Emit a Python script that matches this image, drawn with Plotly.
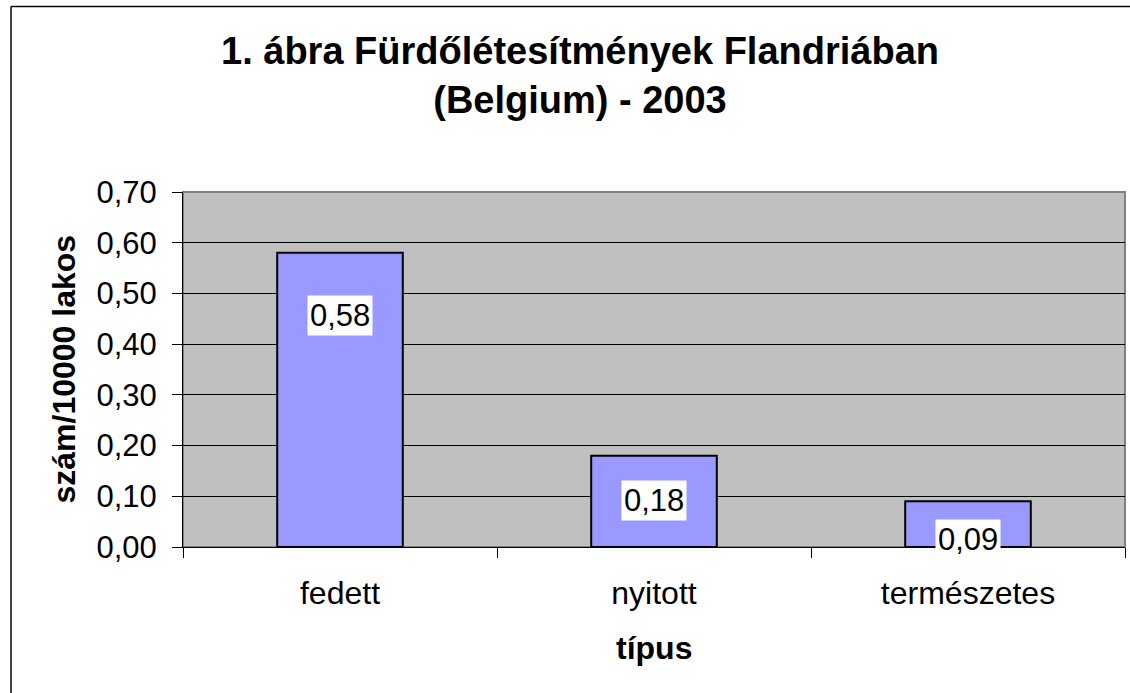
import plotly.graph_objects as go

categories = ["fedett", "nyitott", "természetes"]
values = [0.58, 0.18, 0.09]
label_y = [0.457, 0.091, 0.015]
y_ticks = [0.0, 0.1, 0.2, 0.3, 0.4, 0.5, 0.6, 0.7]

title_text = "1. ábra Fürdőlétesítmények Flandriában<br>(Belgium) - 2003"
x_title = "típus"
y_title = "szám/10000 lakos"

FONT = "Arial, Liberation Sans, sans-serif"

W, H = 1130, 693
L, T, R, B = 183, 192, 5, 146
PW = W - L - R   # plot width
PH = H - T - B   # plot height


def fmt(v):
    return f"{v:.2f}".replace(".", ",")


def px_x(page_x):
    return (page_x - L) / PW


def px_y(page_y):
    return (H - B - page_y) / PH


fig = go.Figure()
fig.add_trace(go.Bar(
    x=categories, y=values, width=0.4,
    marker=dict(color="#9999FF", line=dict(color="#000000", width=2)),
    hoverinfo="skip",
))

for c, v, ly in zip(categories, values, label_y):
    fig.add_annotation(
        x=c, y=ly, xref="x", yref="y", text=fmt(v), showarrow=False,
        font=dict(family=FONT, size=31, color="#000000"),
        bgcolor="#FFFFFF", borderpad=2,
    )

# axis titles
fig.add_annotation(
    x=px_x(654), y=px_y(648), xref="paper", yref="paper",
    text=f"<b>{x_title}</b>", showarrow=False,
    font=dict(family=FONT, size=32, color="#000000"),
    xanchor="center", yanchor="middle",
)
fig.add_annotation(
    x=px_x(63), y=0.5, xref="paper", yref="paper",
    text=f"<b>{y_title}</b>", showarrow=False, textangle=-90,
    font=dict(family=FONT, size=32, color="#000000"),
    xanchor="center", yanchor="middle",
)

# outer frame (only top and left edges are visible in the picture)
frame = dict(color="#000000", width=1.5)
fig.add_shape(type="line", xref="paper", yref="paper",
              x0=px_x(11), x1=px_x(1130), y0=px_y(6.5), y1=px_y(6.5),
              line=frame, layer="above")
fig.add_shape(type="line", xref="paper", yref="paper",
              x0=px_x(11), x1=px_x(11), y0=px_y(6.5), y1=px_y(693),
              line=frame, layer="above")
# plot area border
fig.add_shape(type="rect", xref="paper", yref="paper",
              x0=0, x1=1, y0=0, y1=1,
              line=dict(color="#808080", width=2), fillcolor="rgba(0,0,0,0)",
              layer="below")

fig.update_layout(
    width=W, height=H,
    margin=dict(l=L, r=R, t=T, b=B),
    paper_bgcolor="#FFFFFF", plot_bgcolor="#C0C0C0",
    separators=", ",
    showlegend=False,
    bargap=0.6,
    font=dict(family=FONT, color="#000000"),
    title=dict(
        text=f"<b>{title_text}</b>",
        font=dict(family=FONT, size=38, color="#000000"),
        x=580 / W, xanchor="center", xref="container",
        y=1 - 64 / H, yanchor="top", yref="container",
    ),
    xaxis=dict(
        type="category", tickson="boundaries",
        ticks="outside", ticklen=10, tickwidth=1, tickcolor="#000000",
        showline=True, linecolor="#000000", linewidth=1,
        showgrid=False, zeroline=False,
        tickfont=dict(family=FONT, size=32, color="#000000"),
        ticklabelstandoff=18,
    ),
    yaxis=dict(
        range=[0, 0.7], tickvals=y_ticks, tickformat=".2f",
        ticks="outside", ticklen=10, tickwidth=1, tickcolor="#000000",
        showline=True, linecolor="#000000", linewidth=1,
        showgrid=True, gridcolor="#000000", gridwidth=1,
        zeroline=False,
        tickfont=dict(family=FONT, size=31, color="#000000"),
        ticklabelstandoff=9,
    ),
)

fig.write_html(
    "out.html",
    config={"displayModeBar": False},
    post_script="document.body.style.margin='0';",
)
